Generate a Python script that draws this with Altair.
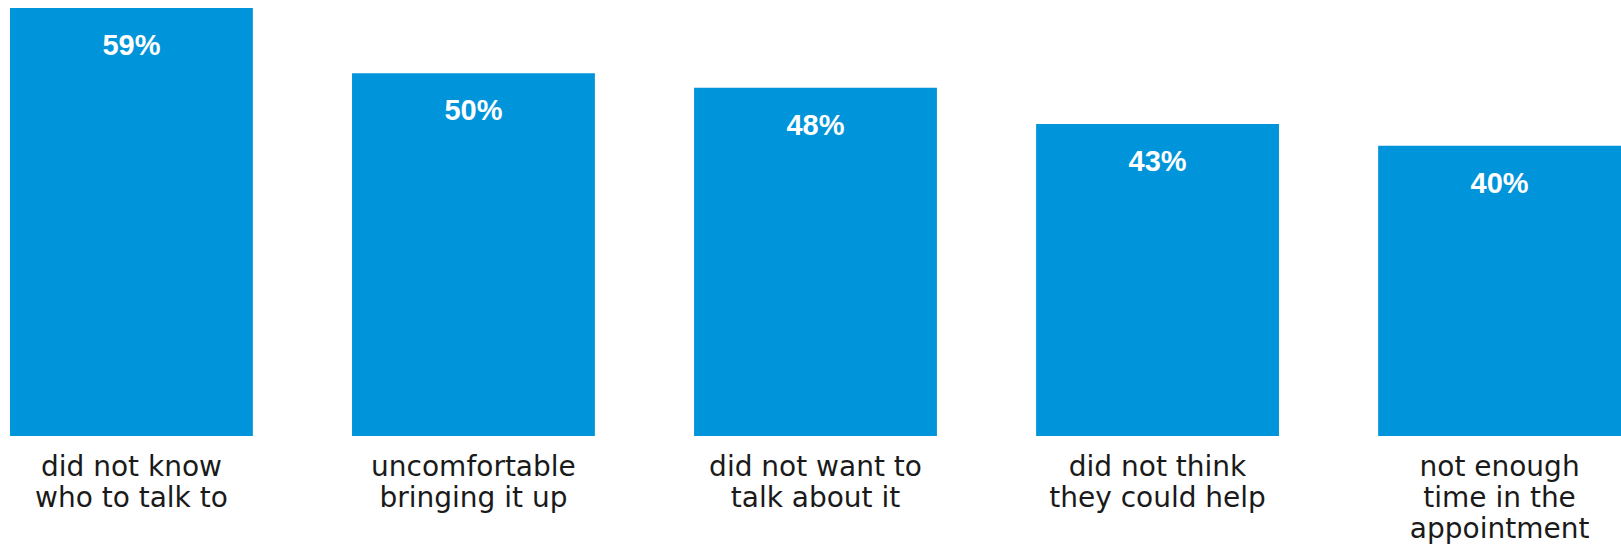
import altair as alt
import pandas as pd

categories = ["did not know|who to talk to", "uncomfortable|bringing it up",
              "did not want to|talk about it", "did not think|they could help",
              "not enough|time in the|appointment"]
values = [59, 50, 48, 43, 40]
labels = ["59%", "50%", "48%", "43%", "40%"]

df = pd.DataFrame({"cat": categories, "val": values, "lab": labels})

x = alt.X("cat:N", sort=None, title=None,
          scale=alt.Scale(paddingInner=0.29, paddingOuter=0),
          axis=alt.Axis(labelAngle=0, domain=False, ticks=False, grid=False,
                        labelExpr="split(datum.label, '|')",
                        labelFont="DejaVu Sans", labelFontSize=28,
                        labelColor="#1a1a1a", labelLineHeight=31,
                        labelPadding=17, labelLimit=400))
y = alt.Y("val:Q", title=None, axis=None, scale=alt.Scale(domain=[0, 59], nice=False, zero=True))

bars = alt.Chart(df).mark_bar(color="#0094DA").encode(x=x, y=y)
text = alt.Chart(df).mark_text(color="white", font="Liberation Sans", fontWeight="bold",
                               fontSize=29, baseline="middle", dy=38).encode(
    x=alt.X("cat:N", sort=None), y=y, text="lab:N")

chart = (bars + text).properties(
    width=1611, height=428,
    background="white",
    autosize=alt.AutoSizeParams(type="none"),
    padding={"left": 10, "top": 8, "right": 0, "bottom": 109},
).configure_view(stroke=None)

chart.save("out.html", embed_options={"renderer": "svg", "actions": False})
